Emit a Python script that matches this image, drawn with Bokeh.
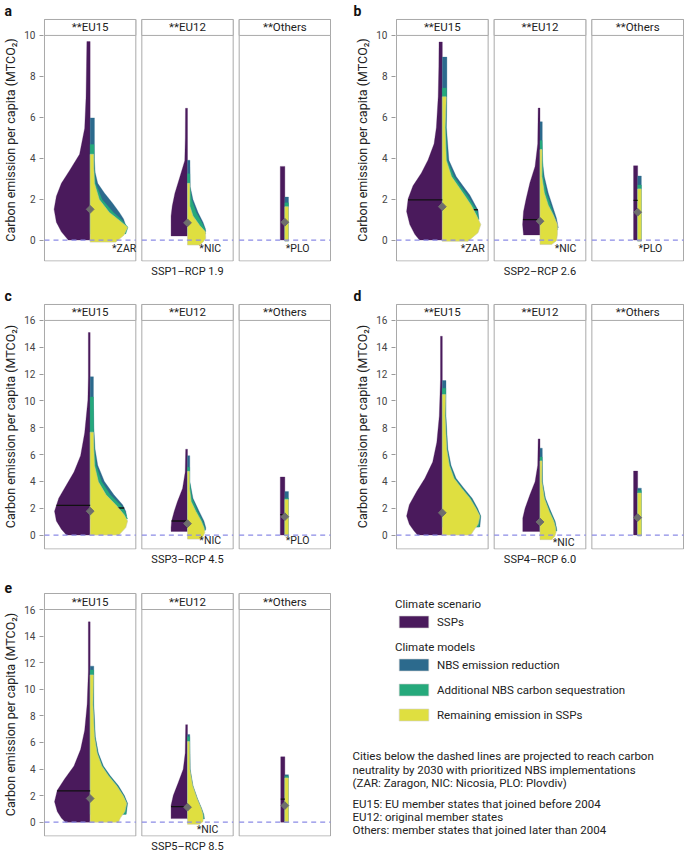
import numpy as np
from bokeh.plotting import figure
from bokeh.models import Range1d, FixedTicker, Legend, LegendItem, Title
from bokeh.layouts import column, row
from bokeh.embed import file_html
from bokeh.resources import INLINE
from bokeh.core.properties import value

# ---------------- data ----------------
GROUPS = ["**EU15", "**EU12", "**Others"]
LETTERS = ["a", "b", "c", "d", "e"]
SCENARIOS = ["SSP1\u2013RCP 1.9", "SSP2\u2013RCP 2.6", "SSP3\u2013RCP 4.5", "SSP4\u2013RCP 6.0", "SSP5\u2013RCP 8.5"]
Y_MIN = -1
Y_MAX = [10, 10, 16, 16, 16]
TICKS_10 = [0, 2, 4, 6, 8, 10]
TICKS_16 = [0, 2, 4, 6, 8, 10, 12, 14, 16]
Y_LABEL = "Carbon emission per capita (MTCO\u2082)"

# violin half profiles: (emission, half width as share of facet width)
# panel a
A_EU15_SSP = [(0, 0.24), (0.4, 0.315), (0.87, 0.37), (1.5, 0.395), (2.14, 0.37), (2.77, 0.315), (3.4, 0.225), (4.19, 0.116), (5.46, 0.06), (7.0, 0.045), (8.5, 0.04), (9.7, 0.036)]
A_EU15_NBS = [(0.4, 0.38), (0.71, 0.39), (1.03, 0.366), (1.35, 0.32), (1.8, 0.246), (2.3, 0.156), (2.77, 0.083), (3.3, 0.055), (3.9, 0.047), (5.97, 0.047)]
A_EU15_SEQ = [(0.3, 0.39), (0.63, 0.415), (1.03, 0.335), (1.35, 0.255), (1.98, 0.13), (2.77, 0.06), (3.5, 0.045), (4.67, 0.042)]
A_EU15_REM = [(-0.1, 0.28), (0.24, 0.37), (0.63, 0.41), (1.03, 0.30), (1.35, 0.21), (1.98, 0.10), (2.77, 0.047), (3.5, 0.04), (4.19, 0.038)]
A_EU12_SSP = [(0.2, 0.18), (0.71, 0.18), (1.18, 0.18), (1.66, 0.167), (2.29, 0.138), (3.09, 0.083), (3.88, 0.03), (5.0, 0.024), (6.44, 0.022)]
A_EU12_NBS = [(0.4, 0.2), (0.55, 0.196), (0.87, 0.17), (1.34, 0.116), (1.98, 0.06), (2.6, 0.03), (3.9, 0.027)]
A_EU12_SEQ = [(0.3, 0.2), (0.55, 0.19), (0.87, 0.155), (1.34, 0.095), (1.98, 0.045), (2.6, 0.027), (3.24, 0.025)]
A_EU12_REM = [(-0.24, 0.134), (-0.1, 0.17), (0.08, 0.2), (0.4, 0.196), (0.71, 0.134), (1.18, 0.06), (1.66, 0.025), (2.77, 0.025)]
A_OTH_SSP = [(0, 0.05), (3.6, 0.05)]
A_OTH_NBS = [(-0.05, 0.04), (2.1, 0.04)]
A_OTH_SEQ = [(-0.05, 0.04), (1.82, 0.04)]
A_OTH_REM = [(-0.05, 0.04), (1.63, 0.04)]
A_MEDIAN = [None, None, None]
A_RMEDIAN = [None, None, None]
A_DIAMOND = [1.5, 0.84, 0.87]
A_CITY = ["*ZAR", "*NIC", "*PLO"]

# panel b
B_EU15_SSP = [(0, 0.25), (0.28, 0.3), (0.76, 0.355), (1.39, 0.39), (2.02, 0.373), (2.65, 0.32), (3.28, 0.228), (3.91, 0.156), (4.7, 0.09), (5.5, 0.065), (7.0, 0.045), (8.5, 0.038), (9.68, 0.036)]
B_EU15_NBS = [(1.0, 0.4), (1.46, 0.39), (1.7, 0.36), (2.2, 0.3), (2.65, 0.225), (3.1, 0.152), (3.9, 0.072), (5.5, 0.045), (7.0, 0.05), (8.94, 0.05)]
B_EU15_SEQ = [(1.0, 0.4), (1.46, 0.375), (1.7, 0.34), (2.2, 0.27), (2.65, 0.195), (3.1, 0.125), (3.9, 0.055), (5.5, 0.04), (7.43, 0.045)]
B_EU15_REM = [(-0.06, 0.28), (0.36, 0.39), (0.76, 0.42), (1.23, 0.37), (1.7, 0.315), (2.2, 0.24), (2.65, 0.17), (3.1, 0.1), (3.9, 0.043), (5.5, 0.03), (7.0, 0.043)]
B_EU12_SSP = [(0.25, 0.18), (0.76, 0.19), (1.39, 0.18), (2.0, 0.152), (2.8, 0.11), (3.6, 0.054), (4.7, 0.025), (6.45, 0.02)]
B_EU12_NBS = [(0.6, 0.2), (1.07, 0.18), (1.7, 0.134), (2.3, 0.09), (3.1, 0.047), (3.9, 0.025), (5.78, 0.025)]
B_EU12_SEQ = [(0.5, 0.195), (1.07, 0.165), (1.7, 0.115), (2.3, 0.07), (3.1, 0.035), (4.87, 0.023)]
B_EU12_REM = [(-0.22, 0.127), (-0.03, 0.18), (0.28, 0.19), (0.76, 0.19), (1.23, 0.145), (1.7, 0.09), (2.3, 0.047), (3.1, 0.02), (4.42, 0.022)]
B_OTH_SSP = [(0, 0.045), (3.63, 0.045)]
B_OTH_NBS = [(-0.05, 0.04), (3.13, 0.04)]
B_OTH_SEQ = [(-0.05, 0.04), (2.69, 0.04)]
B_OTH_REM = [(-0.05, 0.04), (2.5, 0.04)]
B_MEDIAN = [1.96, 1.0, 1.94]
B_RMEDIAN = [1.48, None, None]
B_DIAMOND = [1.63, 0.92, 1.36]
B_CITY = ["*ZAR", "*NIC", "*PLO"]

# panel c
C_EU15_SSP = [(0, 0.26), (0.44, 0.315), (1.05, 0.37), (1.78, 0.39), (2.75, 0.344), (3.73, 0.26), (4.7, 0.177), (5.92, 0.105), (7.62, 0.06), (10.06, 0.025), (11.76, 0.02), (15.1, 0.02)]
C_EU15_NBS = [(1.4, 0.4), (1.78, 0.39), (2.27, 0.355), (3.0, 0.26), (4.0, 0.156), (5.2, 0.083), (6.4, 0.054), (8.0, 0.04), (10.0, 0.036), (11.8, 0.036)]
C_EU15_SEQ = [(1.2, 0.41), (1.78, 0.38), (2.27, 0.33), (3.0, 0.22), (4.0, 0.125), (5.2, 0.065), (6.4, 0.047), (8.0, 0.038), (10.3, 0.036)]
C_EU15_REM = [(0, 0.315), (0.56, 0.39), (1.05, 0.41), (1.53, 0.37), (2.27, 0.28), (3.0, 0.174), (3.97, 0.09), (5.2, 0.047), (6.4, 0.04), (7.67, 0.036)]
C_EU12_SSP = [(0.27, 0.18), (0.56, 0.18), (1.05, 0.174), (1.78, 0.145), (2.5, 0.11), (3.48, 0.054), (4.7, 0.025), (6.4, 0.02)]
C_EU12_NBS = [(0.4, 0.2), (0.56, 0.2), (1.05, 0.18), (1.78, 0.127), (2.75, 0.06), (4.0, 0.025), (5.92, 0.025)]
C_EU12_SEQ = [(0.35, 0.195), (0.56, 0.19), (1.05, 0.165), (1.78, 0.11), (2.75, 0.05), (4.0, 0.024), (5.06, 0.024)]
C_EU12_REM = [(-0.3, 0.134), (-0.1, 0.17), (0.2, 0.19), (0.56, 0.18), (1.05, 0.15), (1.78, 0.09), (2.5, 0.04), (3.5, 0.022), (4.75, 0.022)]
C_OTH_SSP = [(0, 0.05), (4.33, 0.05)]
C_OTH_NBS = [(-0.05, 0.04), (3.24, 0.04)]
C_OTH_SEQ = [(-0.05, 0.04), (2.75, 0.04)]
C_OTH_REM = [(-0.05, 0.04), (2.65, 0.04)]
C_MEDIAN = [2.22, 1.05, 1.53]
C_RMEDIAN = [2.02, None, None]
C_DIAMOND = [1.78, 0.85, 1.37]
C_CITY = [None, "*NIC", "*PLO"]

# panel d
D_EU15_SSP = [(0, 0.27), (0.32, 0.31), (0.8, 0.36), (1.42, 0.39), (2.27, 0.36), (3.25, 0.28), (4.23, 0.19), (5.45, 0.105), (6.92, 0.06), (8.88, 0.033), (11.57, 0.02), (14.82, 0.02)]
D_EU15_NBS = [(0.6, 0.41), (1.42, 0.42), (2.0, 0.385), (2.75, 0.325), (3.5, 0.235), (4.23, 0.15), (5.2, 0.095), (6.43, 0.06), (8.88, 0.04), (11.52, 0.04)]
D_EU15_SEQ = [(0.6, 0.4), (1.42, 0.415), (2.0, 0.375), (2.75, 0.312), (3.5, 0.222), (4.23, 0.138), (5.2, 0.085), (6.43, 0.053), (8.88, 0.035), (10.95, 0.038)]
D_EU15_REM = [(0, 0.31), (0.32, 0.34), (0.8, 0.39), (1.42, 0.41), (2.0, 0.366), (2.75, 0.3), (3.5, 0.21), (4.23, 0.127), (5.2, 0.076), (6.43, 0.047), (8.88, 0.03), (10.47, 0.036)]
D_EU12_SSP = [(0.27, 0.188), (0.54, 0.188), (1.27, 0.188), (2.0, 0.163), (3.0, 0.11), (3.98, 0.054), (5.2, 0.025), (7.17, 0.02)]
D_EU12_NBS = [(0.3, 0.185), (0.55, 0.18), (1.04, 0.165), (1.77, 0.118), (2.75, 0.06), (3.98, 0.028), (6.48, 0.025)]
D_EU12_SEQ = [(0.3, 0.18), (0.55, 0.175), (1.04, 0.158), (1.77, 0.11), (2.75, 0.053), (3.98, 0.024), (5.82, 0.024)]
D_EU12_REM = [(-0.34, 0.127), (-0.1, 0.16), (0.2, 0.175), (0.55, 0.17), (1.04, 0.15), (1.77, 0.1), (2.75, 0.047), (3.98, 0.02), (5.53, 0.022)]
D_OTH_SSP = [(0, 0.045), (4.77, 0.045)]
D_OTH_NBS = [(-0.05, 0.04), (3.5, 0.04)]
D_OTH_SEQ = [(-0.05, 0.04), (3.32, 0.04)]
D_OTH_REM = [(-0.05, 0.04), (3.13, 0.04)]
D_MEDIAN = [None, None, None]
D_RMEDIAN = [None, None, None]
D_DIAMOND = [1.66, 0.98, 1.3]
D_CITY = [None, "*NIC", None]

# panel e
E_EU15_SSP = [(0, 0.27), (0.31, 0.315), (0.8, 0.36), (1.54, 0.39), (2.4, 0.36), (3.25, 0.28), (4.23, 0.177), (5.46, 0.105), (6.92, 0.06), (8.88, 0.033), (11.33, 0.02), (15.07, 0.02)]
E_EU15_NBS = [(0.6, 0.395), (1.42, 0.41), (2.0, 0.375), (2.75, 0.31), (3.5, 0.22), (4.23, 0.145), (5.2, 0.09), (6.43, 0.057), (8.88, 0.04), (11.74, 0.04)]
E_EU15_SEQ = [(0.6, 0.39), (1.42, 0.405), (2.0, 0.367), (2.75, 0.3), (3.5, 0.21), (4.23, 0.136), (5.2, 0.083), (6.43, 0.052), (8.88, 0.035), (11.45, 0.038)]
E_EU15_REM = [(0, 0.31), (0.31, 0.33), (0.8, 0.38), (1.42, 0.4), (2.0, 0.36), (2.75, 0.29), (3.5, 0.2), (4.23, 0.127), (5.2, 0.076), (6.43, 0.047), (8.88, 0.03), (11.08, 0.036)]
E_EU12_SSP = [(0.27, 0.18), (0.54, 0.18), (1.27, 0.18), (2.0, 0.156), (3.0, 0.1), (3.98, 0.047), (5.2, 0.025), (7.34, 0.02)]
E_EU12_NBS = [(0.25, 0.185), (0.55, 0.18), (1.04, 0.155), (1.77, 0.11), (2.75, 0.06), (3.98, 0.03), (6.6, 0.025)]
E_EU12_SEQ = [(0.25, 0.182), (0.55, 0.177), (1.04, 0.152), (1.77, 0.107), (2.75, 0.058), (3.98, 0.027), (6.43, 0.024)]
E_EU12_REM = [(-0.15, 0.134), (0.05, 0.17), (0.31, 0.17), (0.55, 0.17), (1.04, 0.15), (1.77, 0.105), (2.75, 0.056), (3.98, 0.025), (6.07, 0.022)]
E_OTH_SSP = [(0, 0.045), (4.92, 0.045)]
E_OTH_NBS = [(0, 0.04), (3.57, 0.04)]
E_OTH_SEQ = [(0, 0.04), (3.45, 0.04)]
E_OTH_REM = [(0, 0.04), (3.33, 0.04)]
E_MEDIAN = [2.35, 1.17, 1.74]
E_RMEDIAN = [None, None, None]
E_DIAMOND = [1.78, 1.13, 1.25]
E_CITY = [None, "*NIC", None]

LEGEND_SCENARIO_TITLE = "Climate scenario"
LEGEND_SCENARIO = ["SSPs"]
LEGEND_MODELS_TITLE = "Climate models"
LEGEND_MODELS = ["NBS emission reduction", "Additional NBS carbon sequestration", "Remaining emission in SSPs"]
NOTES = [
    "Cities below the dashed lines are projected to reach carbon",
    "neutrality by 2030 with prioritized NBS implementations",
    "(ZAR: Zaragon, NIC: Nicosia, PLO: Plovdiv)",
    "EU15: EU member states that joined before 2004",
    "EU12: original member states",
    "Others: member states that joined later than 2004",
]

# ---------------- styles & layout ----------------
FONT = "Roboto"
C_SSP = "#4a1a5c"
C_NBS = "#2c6a8d"
C_SEQ = "#25a97b"
C_REM = "#dfdf40"
C_BOX = "#a9a9a9"
C_DASH = "#8b8be6"
C_DIAM = "#6e6e6e"
C_TEXT = "#222222"
GAP = 0.066
STRIP_PX = 16
CITY_X = {"a": [0.74, 0.63, 0.51], "b": [0.70, 0.66, 0.51], "c": [0, 0.63, 0.51],
          "d": [0, 0.64, 0], "e": [0, 0.60, 0]}
CITY_Y = {"a": -0.43, "b": -0.43, "c": -0.42, "d": -0.54, "e": -0.58}


def half_shape(xc, prof, side):
    ys = [p[0] for p in prof]
    ws = [p[1] for p in prof]
    xs = [xc] + [xc + side * w for w in ws] + [xc]
    yy = [ys[0]] + ys + [ys[-1]]
    return xs, yy


def width_at(prof, y):
    return float(np.interp(y, [p[0] for p in prof], [p[1] for p in prof]))


def make_panel(letter, scenario, ymax, ticks, ssp, nbs, seq, rem, medians, rmedians,
               diamonds, cities, width, height, borders, frame_h, letter_dx):
    bl, br, bb = borders
    frame_w = width - bl - br
    plot_px = frame_h - STRIP_PX - 2
    upp = (ymax - Y_MIN) / plot_px
    ytop = ymax + STRIP_PX * upp
    xmax = 3 + 2 * GAP
    xpad = xmax / (frame_w - 2)
    p = figure(width=width, height=height, output_backend="svg", toolbar_location=None,
               x_range=Range1d(-xpad, xmax + xpad), y_range=Range1d(Y_MIN - upp, ytop + upp),
               min_border_left=bl, min_border_right=br, min_border_top=0, min_border_bottom=bb,
               x_axis_location=None, title=None)
    p.grid.visible = False
    p.outline_line_color = None
    ax = p.yaxis[0]
    ax.ticker = FixedTicker(ticks=ticks)
    ax.axis_label = Y_LABEL
    ax.axis_line_color = None
    ax.major_tick_line_color = "#9a9a9a"
    ax.major_tick_out = 4
    ax.major_tick_in = 0
    ax.minor_tick_line_color = None
    ax.major_label_standoff = 4
    ax.major_label_text_font = FONT
    ax.major_label_text_font_size = "10px"
    ax.major_label_text_color = "#444444"
    ax.axis_label_standoff = 3
    ax.axis_label_text_font = FONT
    ax.axis_label_text_font_size = "12.5px"
    ax.axis_label_text_font_style = "normal"
    ax.axis_label_text_color = C_TEXT

    x0s = [j * (1 + GAP) for j in range(3)]
    x1s = [x + 1 for x in x0s]
    xcs = [x + 0.5 for x in x0s]
    p.quad(left=x0s, right=x1s, bottom=Y_MIN - upp * 0.5, top=ytop, fill_color=None,
           line_color=C_BOX, line_width=1)
    p.quad(left=x0s, right=x1s, bottom=ymax, top=ytop, fill_color="white",
           line_color=C_BOX, line_width=1)
    p.text(x=xcs, y=[(ymax + ytop) / 2] * 3, text=GROUPS, text_align="center",
           text_baseline="middle", text_font=value(FONT), text_font_size="11.5px",
           text_color=C_TEXT)

    def layer(profs, side, color, line=None):
        xs, ys = [], []
        for xc, prof in zip(xcs, profs):
            a, b = half_shape(xc, prof, side)
            xs.append(a)
            ys.append(b)
        p.patches(xs=xs, ys=ys, fill_color=color, line_color=line or color,
                  line_width=0.6 if line else 0.3)

    layer(ssp, -1, C_SSP)
    layer(nbs, 1, C_NBS)
    layer(seq, 1, C_SEQ)
    rm = [(xc, m, width_at(pr, m)) for xc, m, pr in zip(xcs, rmedians, nbs) if m is not None]
    if rm:
        p.segment(x0=[r[0] for r in rm], y0=[r[1] for r in rm], x1=[r[0] + r[2] for r in rm],
                  y1=[r[1] for r in rm], line_color="#111111", line_width=1.3)
    layer(rem, 1, C_REM, line="#c9c9a0")

    p.segment(x0=x0s, y0=[0] * 3, x1=x1s, y1=[0] * 3, line_color=C_DASH,
              line_dash="5 4", line_width=1.3)
    md = [(xc, m, width_at(pr, m)) for xc, m, pr in zip(xcs, medians, ssp) if m is not None]
    if md:
        p.segment(x0=[r[0] - r[2] for r in md], y0=[r[1] for r in md], x1=[r[0] for r in md],
                  y1=[r[1] for r in md], line_color="#111111", line_width=1.3)
    p.scatter(x=xcs, y=diamonds, marker="square", angle=np.pi / 4, size=5.5,
              fill_color=C_DIAM, line_color=C_DIAM)

    cx, cy, ct = [], [], []
    for j, c in enumerate(cities):
        if c:
            cx.append(x0s[j] + CITY_X[letter][j])
            cy.append(CITY_Y[letter])
            ct.append(c)
    if ct:
        p.text(x=cx, y=cy, text=ct, text_align="left", text_baseline="middle",
               text_font=value(FONT), text_font_size="10.5px", text_color=C_TEXT)

    p.add_layout(Title(text=letter, align="left", offset=letter_dx, standoff=0,
                       text_font=FONT, text_font_size="14px", text_font_style="bold",
                       text_color="#111111"), "above")
    p.add_layout(Title(text=scenario, align="center", standoff=3, text_font=FONT,
                       text_font_size="11px", text_font_style="normal",
                       text_color=C_TEXT), "below")
    return p


LEFT_W, RIGHT_W = 340, 344
pa = make_panel("a", SCENARIOS[0], Y_MAX[0], TICKS_10,
                [A_EU15_SSP, A_EU12_SSP, A_OTH_SSP], [A_EU15_NBS, A_EU12_NBS, A_OTH_NBS],
                [A_EU15_SEQ, A_EU12_SEQ, A_OTH_SEQ], [A_EU15_REM, A_EU12_REM, A_OTH_REM],
                A_MEDIAN, A_RMEDIAN, A_DIAMOND, A_CITY, LEFT_W, 285, (42, 9, 24), 244, -39)
pb = make_panel("b", SCENARIOS[1], Y_MAX[1], TICKS_10,
                [B_EU15_SSP, B_EU12_SSP, B_OTH_SSP], [B_EU15_NBS, B_EU12_NBS, B_OTH_NBS],
                [B_EU15_SEQ, B_EU12_SEQ, B_OTH_SEQ], [B_EU15_REM, B_EU12_REM, B_OTH_REM],
                B_MEDIAN, B_RMEDIAN, B_DIAMOND, B_CITY, RIGHT_W, 285, (55, 0, 24), 244, -42)
pc = make_panel("c", SCENARIOS[2], Y_MAX[2], TICKS_16,
                [C_EU15_SSP, C_EU12_SSP, C_OTH_SSP], [C_EU15_NBS, C_EU12_NBS, C_OTH_NBS],
                [C_EU15_SEQ, C_EU12_SEQ, C_OTH_SEQ], [C_EU15_REM, C_EU12_REM, C_OTH_REM],
                C_MEDIAN, C_RMEDIAN, C_DIAMOND, C_CITY, LEFT_W, 290, (42, 9, 26), 247, -39)
pd_ = make_panel("d", SCENARIOS[3], Y_MAX[3], TICKS_16,
                 [D_EU15_SSP, D_EU12_SSP, D_OTH_SSP], [D_EU15_NBS, D_EU12_NBS, D_OTH_NBS],
                 [D_EU15_SEQ, D_EU12_SEQ, D_OTH_SEQ], [D_EU15_REM, D_EU12_REM, D_OTH_REM],
                 D_MEDIAN, D_RMEDIAN, D_DIAMOND, D_CITY, RIGHT_W, 290, (55, 0, 26), 247, -42)
pe = make_panel("e", SCENARIOS[4], Y_MAX[4], TICKS_16,
                [E_EU15_SSP, E_EU12_SSP, E_OTH_SSP], [E_EU15_NBS, E_EU12_NBS, E_OTH_NBS],
                [E_EU15_SEQ, E_EU12_SEQ, E_OTH_SEQ], [E_EU15_REM, E_EU12_REM, E_OTH_REM],
                E_MEDIAN, E_RMEDIAN, E_DIAMOND, E_CITY, LEFT_W, 280, (42, 9, 19), 244, -39)

# legend panel (frame aligned with panel e's frame)
LF_H = 244
lf = figure(width=RIGHT_W, height=280, output_backend="svg", toolbar_location=None,
            x_range=Range1d(0, RIGHT_W), y_range=Range1d(LF_H, 0),
            min_border_left=0, min_border_right=0, min_border_top=17, min_border_bottom=19,
            x_axis_location=None, y_axis_location=None, title=None)
lf.grid.visible = False
lf.outline_line_color = None
rs = []
for col in [C_SSP, C_NBS, C_SEQ, C_REM]:
    rs.append(lf.quad(left=[-50], right=[-40], bottom=[-50], top=[-40], fill_color=col,
                      line_color="#d0d0d0", line_width=0.6))


def style_legend(lg):
    lg.border_line_color = None
    lg.background_fill_alpha = 0
    lg.padding = 0
    lg.margin = 0
    lg.spacing = 10
    lg.glyph_width = 37
    lg.glyph_height = 15
    lg.label_height = 15
    lg.label_standoff = 5
    lg.label_text_font = FONT
    lg.label_text_font_size = "11.5px"
    lg.label_text_color = C_TEXT
    lg.title_text_font = FONT
    lg.title_text_font_size = "11.5px"
    lg.title_text_font_style = "normal"
    lg.title_text_color = C_TEXT
    lg.title_standoff = 3


leg1 = Legend(items=[LegendItem(label=LEGEND_SCENARIO[0], renderers=[rs[0]])],
              title=LEGEND_SCENARIO_TITLE, location=(55, LF_H - 37))
leg2 = Legend(items=[LegendItem(label=t, renderers=[r]) for t, r in zip(LEGEND_MODELS, rs[1:])],
              title=LEGEND_MODELS_TITLE, location=(55, LF_H - 130))
style_legend(leg1)
style_legend(leg2)
lf.add_layout(leg1)
lf.add_layout(leg2)

NOTE_Y = [163, 177, 190, 211, 224, 237]
lf.text(x=[12] * len(NOTES), y=NOTE_Y, text=NOTES, text_align="left", text_baseline="middle",
        text_font=value(FONT), text_font_size="11.5px", text_color=C_TEXT)

layout = column(row(pa, pb), row(pc, pd_), row(pe, lf))
open("out.html", "w").write(file_html(layout, INLINE))
